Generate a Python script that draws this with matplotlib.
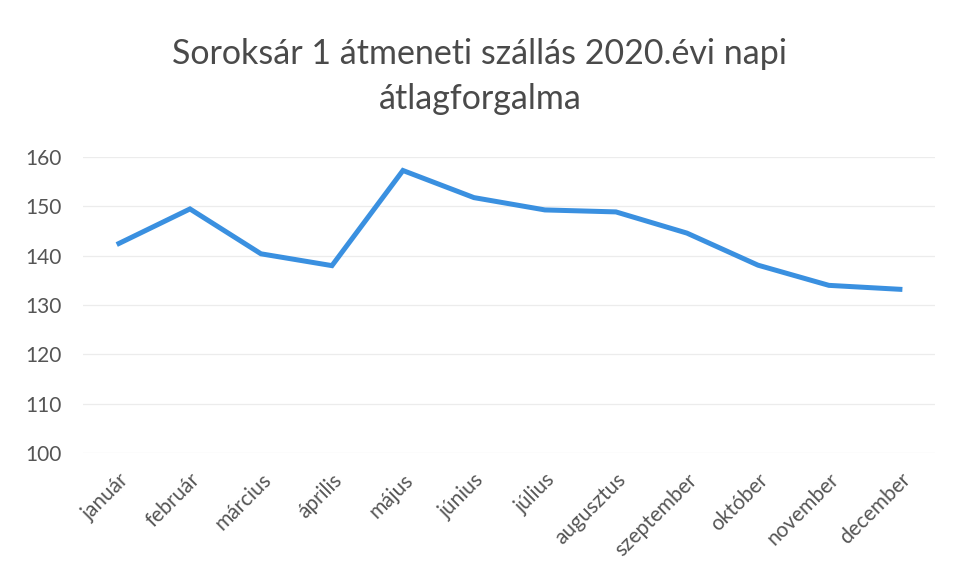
import matplotlib
matplotlib.use("Agg")
import matplotlib.pyplot as plt

plt.rcParams['font.family'] = ['Lato', 'DejaVu Sans']

# napi átlagforgalom havonta
honapok = ['január', 'február', 'március', 'április', 'május', 'június',
           'július', 'augusztus', 'szeptember', 'október', 'november', 'december']
forgalom = [142.5, 149.5, 140.4, 138.0, 157.3, 151.8,
            149.3, 148.9, 144.6, 138.1, 134.0, 133.2]
y_ticks = [100, 110, 120, 130, 140, 150, 160]

fig = plt.figure(figsize=(9.54, 5.8), dpi=100)
ax = fig.add_axes([0.0875, 0.219, 0.893, 0.510])

x = range(len(honapok))
ax.plot(x, forgalom, color='#3a90e0', linewidth=3.6, solid_joinstyle='miter')

ax.set_xlim(-0.5, len(honapok) - 0.5)
ax.set_ylim(100, 160)
ax.set_yticks(y_ticks)
ax.set_xticks(list(x))
ax.set_xticklabels(honapok, rotation=45, ha='right', rotation_mode='anchor')

ax.grid(axis='y', color='#ececec', linewidth=0.9)
ax.set_axisbelow(True)
for s in ax.spines.values():
    s.set_visible(False)
ax.tick_params(axis='both', length=0, colors='#555555')
ax.tick_params(axis='y', pad=16, labelsize=15)
ax.tick_params(axis='x', pad=12, labelsize=15)

fig.suptitle('Soroksár 1 átmeneti szállás 2020.évi napi\nátlagforgalma',
             x=0.503, y=0.935, fontsize=24.5, color='#4a4a4a', linespacing=1.5)

plt.savefig('out.png', dpi=100)
plt.close()
